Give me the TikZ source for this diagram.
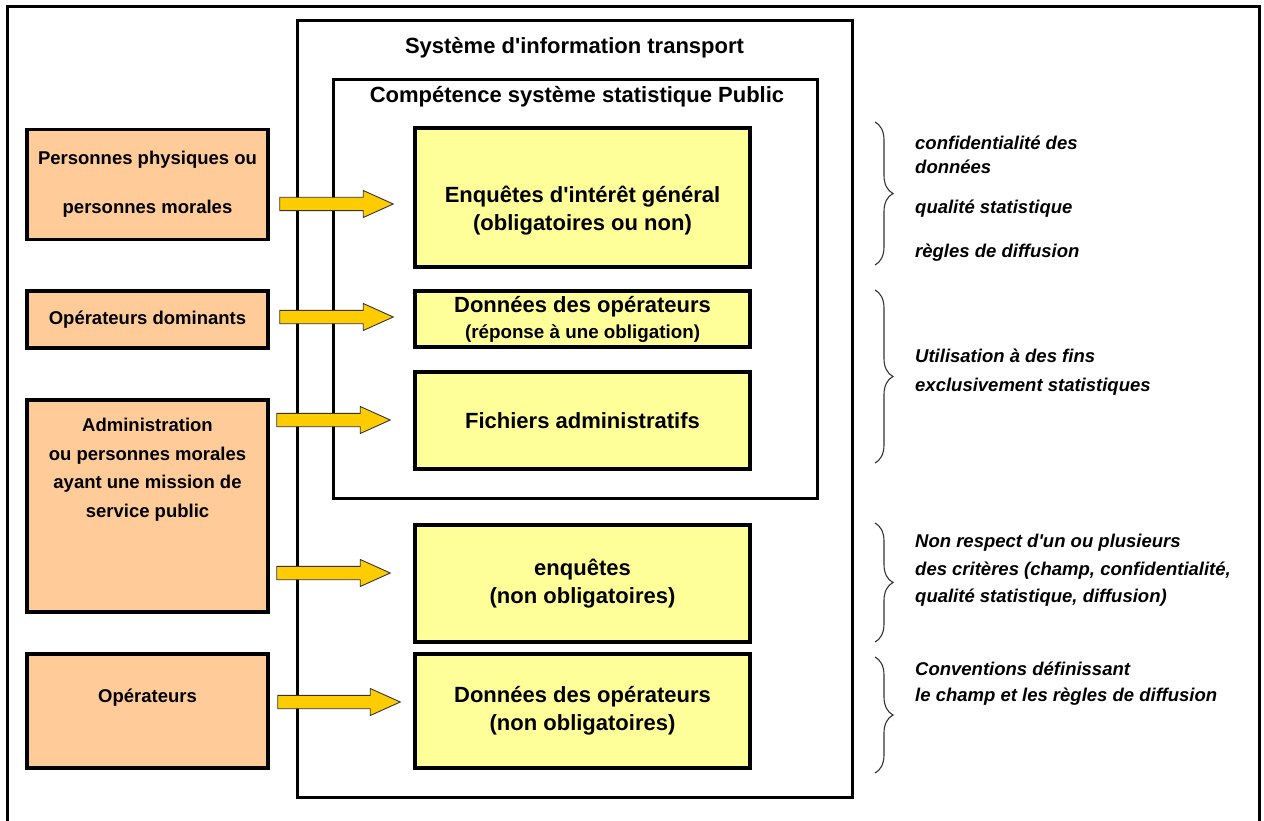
\documentclass[tikz,border=0pt]{standalone}
\usepackage{fontspec}
\setmainfont{Liberation Sans}
\usetikzlibrary{calc,positioning,decorations.pathreplacing}

\definecolor{orangeclair}{HTML}{FFCC99}
\definecolor{jauneclair}{HTML}{FFFF99}
\definecolor{jaunefleche}{HTML}{FFCC00}
\newcommand{\apos}{\textquotesingle}

\begin{document}
\begin{tikzpicture}[
    x=1pt, y=-1pt,
    cadre/.style={draw, line width=3pt},
    txtorange/.style={align=center, font=\fontsize{18.5}{28.5}\selectfont\bfseries},
    txtjaune/.style={align=center, font=\fontsize{22}{28}\selectfont\bfseries},
    source/.style={draw, line width=3.5pt, fill=orangeclair, minimum width=241pt, inner sep=0pt, txtorange},
    bloc/.style={draw, line width=3.5pt, fill=jauneclair, minimum width=335pt, inner sep=0pt, txtjaune},
    titre/.style={font=\fontsize{22}{26}\selectfont\bfseries},
    remarque/.style={anchor=west, align=left, inner sep=0pt, font=\fontsize{18.5}{27.5}\selectfont\bfseries\itshape},
    accolade/.style={draw=black!80, line width=1.1pt, decorate, decoration={brace, amplitude=18pt}},
    fleche/.style={draw=black!80, line width=0.9pt, fill=jaunefleche,
        to path={++(0,-6.7) -- ($(\tikztotarget)+(-30,-6.7)$) -- ($(\tikztotarget)+(-30,-13.5)$)
            -- (\tikztotarget) -- ($(\tikztotarget)+(-30,13.5)$) -- ($(\tikztotarget)+(-30,6.7)$)
            -- ($(\tikztostart)+(0,6.7)$) -- cycle}}
]
\useasboundingbox (0,0) rectangle (1264,821);

\draw[cadre] (7,830) -- (7,7) -- (1259,7) -- (1259,830);

\node[cadre, minimum width=555pt, minimum height=776pt] (sys) at (574.5,409) {};
\node[titre] (tsys) at (574.5,48) {Système d\apos information transport};
\node[cadre, minimum width=484pt, minimum height=418pt] (comp) at (575,289) {};
\node[titre] (tcomp) at (577,97) {Compétence système statistique Public};

\node[bloc, minimum height=139pt, label={[txtjaune, yshift=-13.5pt]center:{Enquêtes d\apos intérêt général\\(obligatoires ou non)}}] (en1) at (582.5,197.5) {};
\node[bloc, minimum height=56pt] (don1) at (582.5,319) {Données des opérateurs\\[-2pt]{\fontsize{18.8}{22}\selectfont(réponse à une obligation)}};
\node[bloc, minimum height=97pt] (fic) at (582.5,420.5) {Fichiers administratifs};
\node[bloc, minimum height=117pt] (en2) at (582.5,583.5) {enquêtes\\(non obligatoires)};
\node[bloc, minimum height=114pt] (don2) at (582.5,711) {Données des opérateurs\\(non obligatoires)};

\node[source, minimum height=110pt] (pp) at (147.5,184.5) {Personnes physiques ou\\[20.5pt]personnes morales};
\node[source, minimum height=57pt] (od) at (147.5,319.5) {Opérateurs dominants};
\node[source, minimum height=212pt, label={[txtorange, yshift=36.5pt]center:{Administration\\ou personnes morales\\ayant une mission de\\service public}}] (adm) at (147.5,506) {};
\node[source, minimum height=114pt, label={[txtorange, yshift=13pt]center:Opérateurs}] (op) at (147.5,711) {};

\path (pp.east) ++(10,19.5) coordinate (a1s) (en1.west) ++(-20,6.5) coordinate (a1t);
\path (od.east) ++(10,-2.5) coordinate (a2s) (don1.west) ++(-20,-2) coordinate (a2t);
\path (adm.east) ++(7,-86) coordinate (a3s) (fic.west) ++(-23,-0.5) coordinate (a3t);
\path (adm.east) ++(7,67) coordinate (a4s) (en2.west) ++(-23,-10.5) coordinate (a4t);
\path (op.east) ++(8,-9) coordinate (a5s) (don2.west) ++(-13,-9) coordinate (a5t);

\path[fleche] (a1s) to (a1t);
\path[fleche] (a2s) to (a2t);
\path[fleche] (a3s) to (a3t);
\path[fleche] (a4s) to (a4t);
\path[fleche] (a5s) to (a5t);

\draw[accolade] (875,122) -- (875,265);
\draw[accolade] (875,290) -- (875,463);
\draw[accolade] (875,523) -- (875,642);
\draw[accolade] (875,657) -- (875,773);

\node[remarque] (r1) at (915,155) {confidentialité des\\[-3.5pt]données};
\node[remarque] (r2) at (915,209) {qualité statistique};
\node[remarque] (r3) at (915,253) {règles de diffusion};
\node[remarque] (r4) at (915,372.5) {Utilisation à des fins\\[1.5pt]exclusivement statistiques};
\node[remarque] (r5) at (915,570.5) {Non respect d\apos un ou plusieurs\\des critères (champ, confidentialité,\\qualité statistique, diffusion)};
\node[remarque] (r6) at (915,684) {Conventions définissant\\[-1.5pt]le champ et les règles de diffusion};

\end{tikzpicture}
\end{document}
